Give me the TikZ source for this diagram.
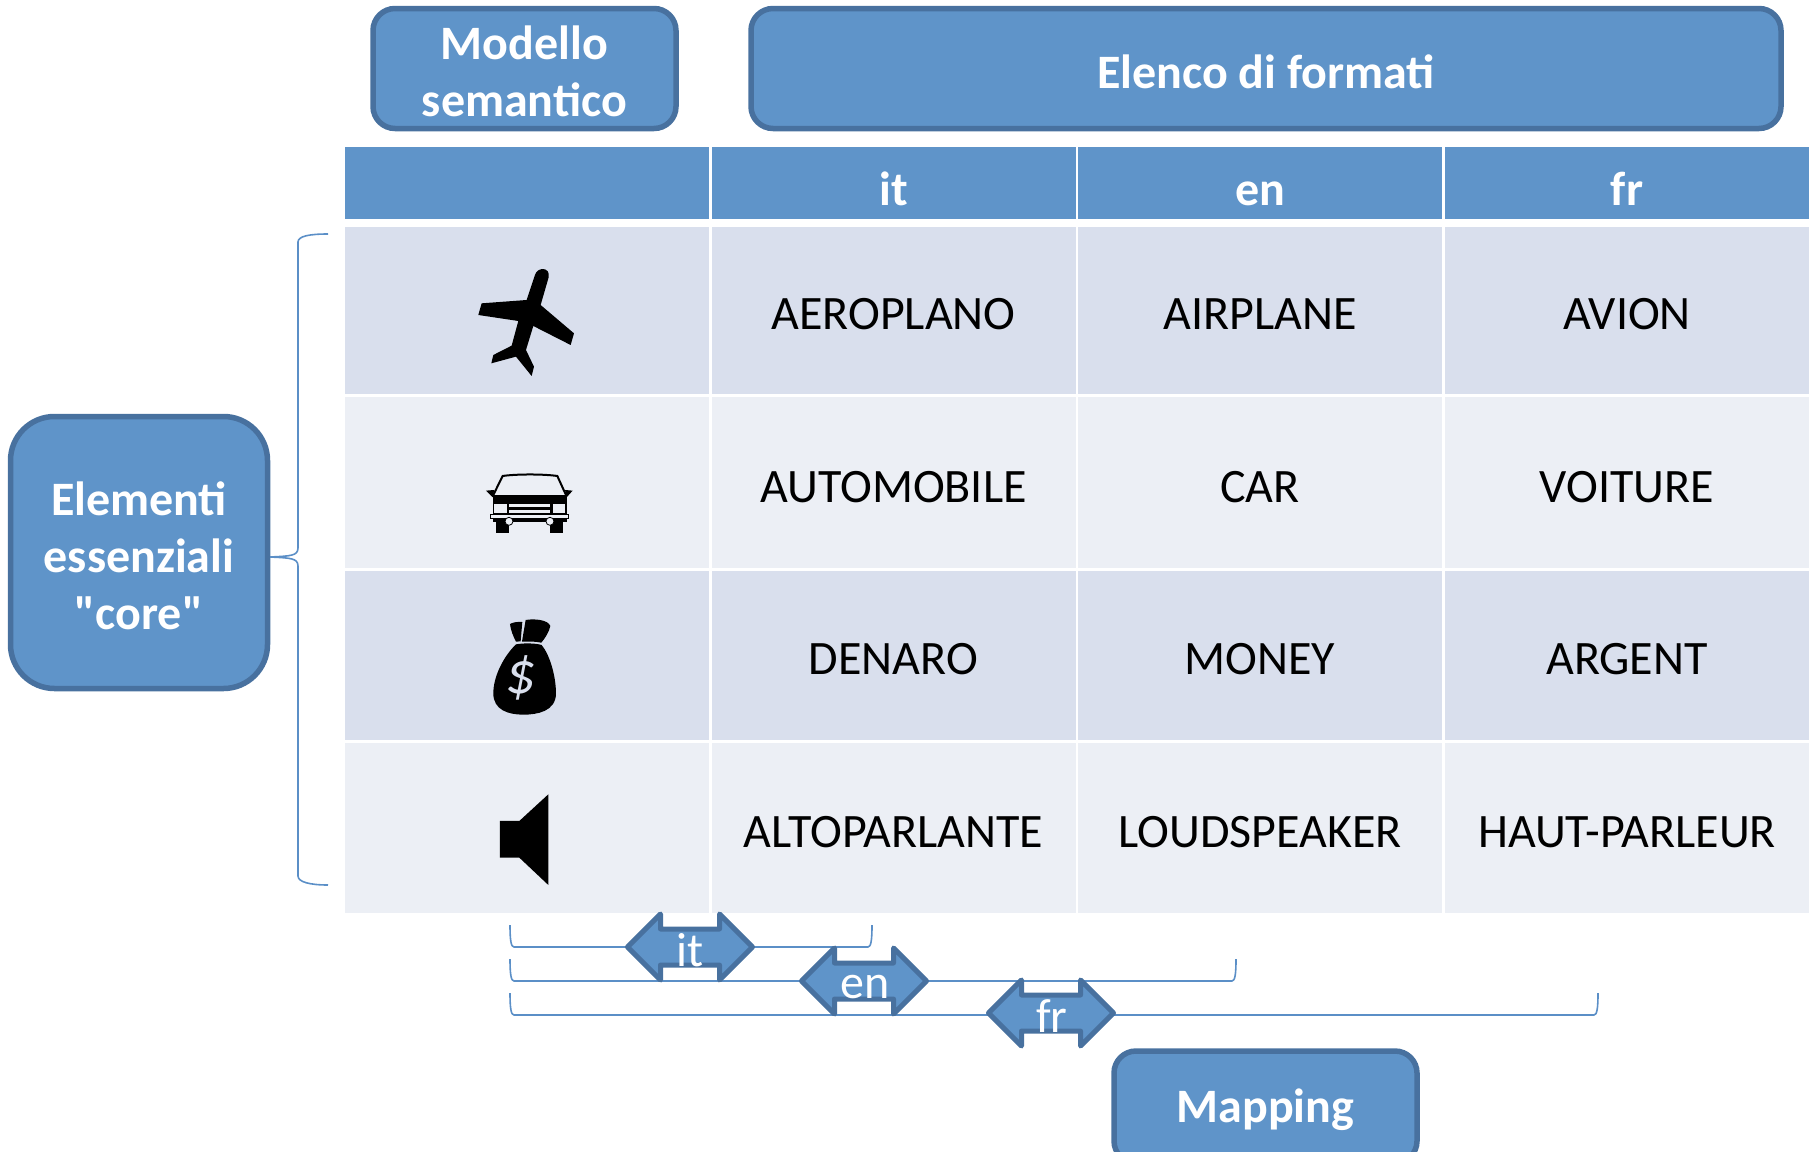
\documentclass[tikz,border=0pt]{standalone}
\usepackage{fontspec}
\setmainfont{Carlito}
\newfontfamily\plainquote{Carlito}
\usetikzlibrary{shapes,arrows.meta,calc}
\definecolor{boxfill}{HTML}{5F94C9}
\definecolor{boxline}{HTML}{48719F}
\definecolor{rowdark}{HTML}{D9DFED}
\definecolor{rowlight}{HTML}{ECEFF5}
\definecolor{bracecol}{HTML}{5B8FC7}
\newcommand{\liftline}{\rule{0pt}{40pt}}
\tikzset{
    titlebox/.style={draw=boxline, fill=boxfill, line width=5.5pt, rounded corners=22pt, text=white, align=center, inner sep=0pt, font=\fontsize{48}{57}\selectfont\bfseries},
    headcell/.style={fill=boxfill, inner sep=0pt, minimum height=72pt, minimum width=364pt, text=white, text height=44pt, text depth=0pt, font=\fontsize{48}{48}\selectfont\bfseries},
    darkcell/.style={fill=rowdark, inner sep=0pt, minimum width=364pt, text height=38pt, text depth=0pt, font=\fontsize{48}{48}\selectfont},
    lightcell/.style={fill=rowlight, inner sep=0pt, minimum width=364pt, text height=39pt, text depth=0pt, font=\fontsize{48}{48}\selectfont},
    maparrow/.style={draw=boxline, fill=boxfill, line width=5pt, line join=round, double arrow, double arrow head extend=15pt, double arrow head indent=0pt, double arrow tip angle=90, inner sep=0pt, text height=31pt, text depth=0pt, minimum height=125pt, minimum width=62pt},
    maplabel/.style={text=white, inner sep=0pt, font=\fontsize{48}{48}\selectfont},
    bracket/.style={draw=bracecol, line width=1.6pt}
}
\begin{document}
\begin{tikzpicture}[x=1pt,y=-1pt]
\clip (0,0) rectangle (1814,1151);

\node[titlebox, minimum width=303pt, minimum height=120pt] (modello) at (524.5,68.5) {\liftline Modello\\semantico};
\node[titlebox, minimum width=1030pt, minimum height=120pt] (elenco) at (1266,68.5) {\liftline Elenco di formati};
\node[titlebox, rounded corners=44pt, minimum width=257pt, minimum height=272pt] (elementi) at (139,552.5) {\liftline Elementi\\essenziali\\{\plainquote "}core{\plainquote "}};
\node[titlebox, minimum width=303pt, minimum height=112pt] (mapping) at (1265.5,1107) {\liftline Mapping};

% header
\node[headcell] (h0) at (527,183) {};
\node[headcell] (h1) at (893.5,183) {it};
\node[headcell] (h2) at (1260,183) {en};
\node[headcell] (h3) at (1627,183) {fr};

% rows
\node[darkcell, minimum height=167pt] (a0) at (527,310.5) {};
\node[darkcell, minimum height=167pt] (a1) at (893.5,310.5) {AEROPLANO};
\node[darkcell, minimum height=167pt] (a2) at (1260,310.5) {AIRPLANE};
\node[darkcell, minimum height=167pt] (a3) at (1627,310.5) {AVION};

\node[lightcell, minimum height=171pt] (b0) at (527,482.5) {};
\node[lightcell, minimum height=171pt] (b1) at (893.5,482.5) {AUTOMOBILE};
\node[lightcell, minimum height=171pt] (b2) at (1260,482.5) {CAR};
\node[lightcell, minimum height=171pt] (b3) at (1627,482.5) {VOITURE};

\node[darkcell, minimum height=169pt] (c0) at (527,655.5) {};
\node[darkcell, minimum height=169pt] (c1) at (893.5,655.5) {DENARO};
\node[darkcell, minimum height=169pt] (c2) at (1260,655.5) {MONEY};
\node[darkcell, minimum height=169pt] (c3) at (1627,655.5) {ARGENT};

\node[lightcell, minimum height=170pt] (d0) at (527,828) {};
\node[lightcell, minimum height=170pt] (d1) at (893.5,828) {ALTOPARLANTE};
\node[lightcell, minimum height=170pt] (d2) at (1260,828) {LOUDSPEAKER};
\node[lightcell, minimum height=170pt] (d3) at (1627,828) {HAUT-PARLEUR};

% plane
\begin{scope}[shift={(300,220)},scale=0.3333]
\fill (705,165) .. controls (712,140) and (752,140) .. (746,172) -- (722,255) -- (822,340) -- (812,375) -- (700,318) -- (678,390) -- (702,440) -- (695,468) -- (648,410) -- (574,430) -- (580,405) -- (635,377) -- (655,303) -- (535,285) -- (545,250) -- (680,240) -- cycle;
\end{scope}

% car
\begin{scope}[shift={(300,220)},scale=0.3333]
\draw[line width=2pt,fill=rowlight] (580,825) -- (608,768) .. controls (650,762) and (730,762) .. (772,768) -- (798,825);
\fill (578,825) rectangle (800,905);
\fill (558,812) -- (583,810) -- (578,832) -- cycle;
\fill (818,812) -- (795,810) -- (800,832) -- cycle;
\fill (588,900) rectangle (627,940);
\fill (750,900) rectangle (790,940);
\fill[rowlight] (583,853) rectangle (620,878);
\fill[rowlight] (760,853) rectangle (795,878);
\fill[rowlight] (627,853) rectangle (750,860);
\fill[rowlight] (627,870) rectangle (750,878);
\draw[line width=0.8pt,fill=rowlight] (572,884) rectangle (805,896);
\draw[line width=0.8pt,fill=rowlight] (627,904) circle (12);
\draw[line width=0.8pt,fill=rowlight] (750,904) circle (12);
\end{scope}

% bag
\begin{scope}[shift={(300,600)},scale=0.3333]
\fill (630,72) .. controls (640,66) and (655,65) .. (667,66) -- (662,124) -- (648,125) .. controls (640,110) and (632,90) .. (630,72) -- cycle;
\fill (677,60) .. controls (705,55) and (745,60) .. (751,78) .. controls (748,95) and (735,115) .. (724,128) .. controls (705,124) and (685,124) .. (666,125) -- cycle;
\fill (648,133) .. controls (670,129) and (705,129) .. (725,135) .. controls (750,165) and (768,230) .. (768,280) .. controls (768,335) and (710,344) .. (670,344) .. controls (625,344) and (580,330) .. (580,280) .. controls (580,230) and (610,170) .. (648,133) -- cycle;
\node[text=rowdark, inner sep=0pt, font=\fontsize{60}{60}\selectfont\itshape] (dollar) at (662,235) {\$};
\end{scope}

% speaker
\begin{scope}[shift={(300,600)},scale=0.3333]
\fill (600,663) -- (658,663) -- (745,583) -- (745,855) -- (658,773) -- (600,773) -- cycle;
\end{scope}

% big brace
\coordinate (bt) at (328,234);
\coordinate (bb) at (328,885);
\draw[bracket] (bt) .. controls (310,234) and (298,236) .. (298,242) -- (298,548) .. controls (298,556) and (290,556) .. (elementi.east |- 0,557) .. controls (290,558) and (298,558) .. (298,566) -- (298,876) .. controls (298,882) and (310,885) .. (bb);

% mapping brackets
\coordinate (i0) at (510,925);
\coordinate (i1) at (872,925);
\coordinate (e0) at (510,959);
\coordinate (e1) at (1236,959);
\coordinate (f0) at (510,993);
\coordinate (f1) at (1598,993);
\draw[bracket] (i0) .. controls (510,940) and (511,947) .. (514,947) -- (868,947) .. controls (871,947) and (872,940) .. (i1);
\draw[bracket] (e0) .. controls (510,974) and (511,981) .. (514,981) -- (1232,981) .. controls (1235,981) and (1236,974) .. (e1);
\draw[bracket] (f0) .. controls (510,1008) and (511,1015) .. (514,1015) -- (1594,1015) .. controls (1597,1015) and (1598,1008) .. (f1);

\node[maparrow] (arrit) at (690,947) {};
\node[maparrow] (arren) at (864,981) {};
\node[maparrow] (arrfr) at (1051,1013) {};
\node[maplabel] (lit) at (690,950) {it};
\node[maplabel] (len) at (865,987) {en};
\node[maplabel] (lfr) at (1052,1016) {fr};
\end{tikzpicture}
\end{document}
